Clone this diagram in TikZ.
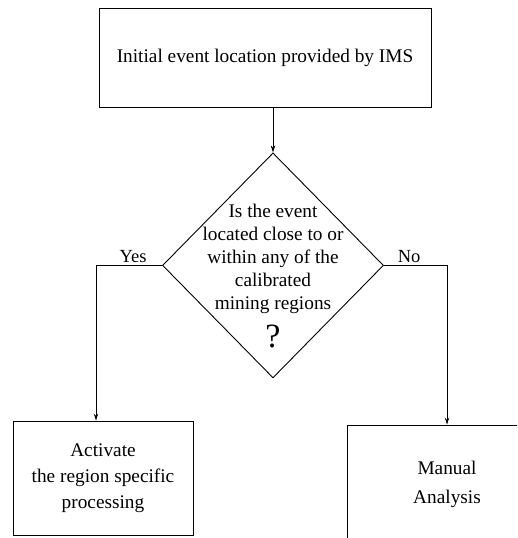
\documentclass[tikz,border=0pt]{standalone}
\usepackage{fontspec}
\setmainfont{Liberation Serif}
\usepackage{tikz}
\usetikzlibrary{arrows.meta}
\usetikzlibrary{shapes.geometric}
\usetikzlibrary{positioning}
\tikzset{%
  base/.style = {rectangle, draw=black, line width=0.9pt, align=center, font=\fontsize{19.3}{26}\selectfont},
  decision/.style = {diamond, draw=black, line width=0.9pt, inner sep=0pt},
  answer/.style = {font=\fontsize{18.5}{22}\selectfont, inner sep=2pt}
}

\begin{document}
\begin{tikzpicture}[%
    x=1pt, y=-1pt,
    >={Stealth[length=7pt,width=4.5pt]},
    line width=0.9pt]
  \clip (0,0) rectangle (517,538);

  % Specification of nodes (position, etc.)
  \node (ims-loc) [base, minimum width=332pt, minimum height=99pt] at (265,57.5) {Initial event location provided by IMS};
  \node (near-region) [decision, minimum width=221pt, minimum height=225pt, below=45pt of ims-loc, xshift=8pt] {};
  \node (near-text) [align=center, inner sep=0pt, font=\fontsize{19.3}{22.8}\selectfont, anchor=north] at (273,204) {Is the event\\located close to or\\within any of the\\calibrated\\mining regions};
  \node (near-qmark) [inner sep=0pt, font=\fontsize{34}{34}\selectfont, anchor=base] at (273,347) {?};
  \node (activate) [base, minimum width=180pt, minimum height=114pt] at (103,478) {Activate\\the region specific\\processing};
  \node (manual) [base, minimum width=200pt, minimum height=118pt, font=\fontsize{19.3}{29}\selectfont] at (447,484) {Manual\\Analysis};

  \draw[->] (near-region.north |- ims-loc.south) -- (near-region.north);
  \draw[->] (near-region.west) -| node[answer, pos=0.22, above] (yes-lbl) {Yes} ([xshift=-7pt]activate.north);
  \draw[->] (near-region.east) -| node[answer, pos=0.2, above] (no-lbl) {No} (manual.north);
\end{tikzpicture}
\end{document}
